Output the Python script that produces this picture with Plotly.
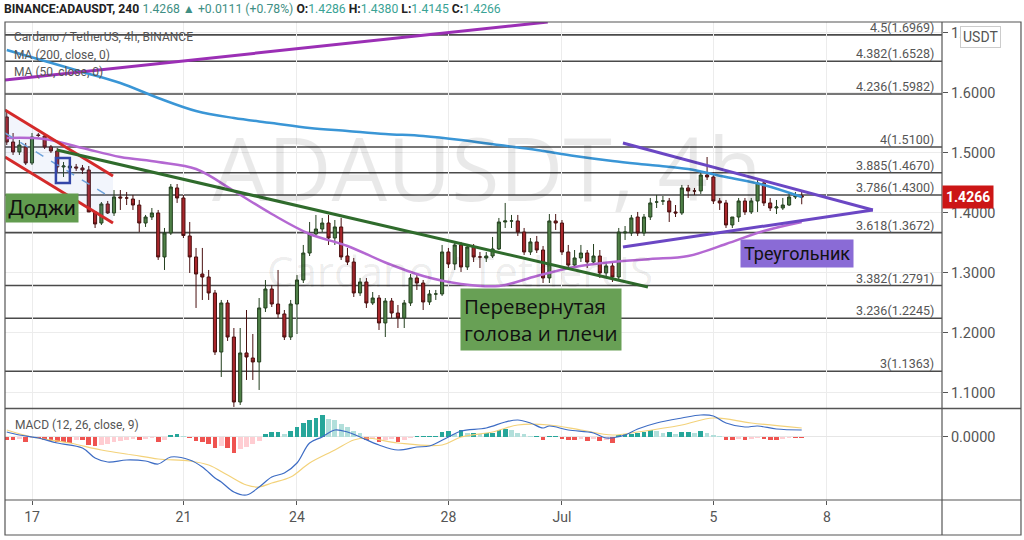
import pandas as pd
import plotly.graph_objects as go

# ---------------- data ----------------
opens = [1.5600,1.5183,1.5017,1.5100,1.4833,1.5300,1.5283,1.5100,1.5033,1.4767,
         1.4750,1.4767,1.4750,1.4717,1.4017,1.3833,1.4150,1.4000,1.4267,1.4250,
         1.4233,1.4133,1.3833,1.3933,1.4000,1.3267,1.3667,1.4417,1.4250,1.3617,
         1.3267,1.2983,1.2933,1.2667,1.1683,1.2500,1.1933,1.0850,1.1667,1.1583,
         1.1517,1.2417,1.2733,1.2483,1.2317,1.1933,1.2483,1.2883,1.3333,1.3650,
         1.3733,1.3833,1.3583,1.3767,1.3283,1.3183,1.2667,1.2850,1.2500,1.2583,
         1.2167,1.2533,1.2333,1.2250,1.2500,1.2917,1.2833,1.2517,1.2650,1.2650,
         1.3350,1.3150,1.3467,1.3100,1.3433,1.3267,1.3250,1.3283,1.3400,1.3850,
         1.3867,1.3867,1.3683,1.3350,1.3517,1.3383,1.2917,1.3867,1.3833,1.3350,
         1.3133,1.3250,1.3333,1.3183,1.3283,1.3000,1.3117,1.2933,1.3667,1.3667,
         1.3933,1.3667,1.3933,1.4183,1.4200,1.4200,1.4017,1.4000,1.4417,1.4367,
         1.4367,1.4633,1.4600,1.4200,1.4167,1.3800,1.3933,1.4200,1.4017,1.4200,
         1.4500,1.4167,1.4083,1.4083,1.4133,1.4267,1.4286]
highs = [1.5683,1.5333,1.5217,1.5167,1.5333,1.5333,1.5317,1.5133,1.5083,1.4850,
         1.4833,1.4817,1.4800,1.4783,1.4033,1.4183,1.4200,1.4383,1.4383,1.4350,
         1.4300,1.4217,1.3967,1.4083,1.4050,1.3750,1.4483,1.4483,1.4300,1.3850,
         1.3417,1.3417,1.3050,1.2717,1.2550,1.2550,1.2083,1.2083,1.2383,1.1983,
         1.2583,1.2883,1.2800,1.3050,1.2383,1.2550,1.2967,1.3467,1.3850,1.3967,
         1.3917,1.3967,1.3883,1.3917,1.3417,1.3250,1.2917,1.2917,1.2683,1.2633,
         1.2583,1.2583,1.2467,1.2550,1.2983,1.2967,1.2883,1.2717,1.2717,1.3467,
         1.3417,1.3517,1.3517,1.3483,1.3483,1.3350,1.3350,1.3600,1.3917,1.4167,
         1.3967,1.3967,1.3750,1.3583,1.3617,1.3450,1.3983,1.3983,1.3883,1.3467,
         1.3383,1.3467,1.3383,1.3483,1.3383,1.3183,1.3183,1.3750,1.3783,1.3967,
         1.4017,1.3983,1.4250,1.4300,1.4283,1.4250,1.4133,1.4467,1.4467,1.4417,
         1.4683,1.4933,1.4683,1.4250,1.4217,1.3933,1.4250,1.4250,1.4250,1.4550,
         1.4550,1.4250,1.4217,1.4250,1.4350,1.4350,1.4380]
lows = [1.5133,1.4967,1.4967,1.4800,1.4800,1.5267,1.5067,1.5000,1.4683,1.4600,
        1.4700,1.4700,1.4650,1.4017,1.3750,1.3800,1.3983,1.3950,1.4050,1.4133,
        1.4050,1.3683,1.3767,1.3883,1.3217,1.3050,1.3633,1.4167,1.3583,1.3000,
        1.2417,1.2550,1.2550,1.1633,1.1267,1.1867,1.0767,1.0800,1.1217,1.1217,
        1.1050,1.2350,1.2433,1.2250,1.1883,1.1883,1.1983,1.2833,1.3283,1.3617,
        1.3683,1.3467,1.3467,1.3217,1.3133,1.2600,1.2617,1.2417,1.2467,1.2050,
        1.1933,1.2250,1.2083,1.2083,1.2450,1.2717,1.2383,1.2467,1.2550,1.2617,
        1.3083,1.3050,1.3017,1.3050,1.3183,1.3083,1.3183,1.3250,1.3383,1.3750,
        1.3750,1.3617,1.3300,1.3300,1.3333,1.2833,1.2833,1.3717,1.3300,1.3083,
        1.3083,1.3183,1.3083,1.3133,1.2917,1.2933,1.2850,1.2883,1.3550,1.3617,
        1.3617,1.3617,1.3883,1.4083,1.4133,1.3850,1.3933,1.3967,1.4250,1.4300,
        1.4317,1.4550,1.4150,1.4050,1.3750,1.3750,1.3850,1.3967,1.3983,1.4017,
        1.4117,1.4033,1.3983,1.4050,1.4117,1.4233,1.4145]
closes = [1.5183,1.5017,1.5133,1.4833,1.5267,1.5292,1.5100,1.5033,1.4767,1.4783,
          1.4783,1.4750,1.4717,1.4017,1.3817,1.4150,1.4000,1.4267,1.4250,1.4250,
          1.4133,1.3833,1.3933,1.4000,1.3267,1.3667,1.4433,1.4250,1.3625,1.3267,
          1.2983,1.2933,1.2667,1.1683,1.2500,1.1933,1.0850,1.1667,1.1600,1.1517,
          1.2417,1.2733,1.2483,1.2317,1.1933,1.2483,1.2883,1.3333,1.3650,1.3733,
          1.3833,1.3583,1.3767,1.3267,1.3183,1.2667,1.2850,1.2500,1.2583,1.2167,
          1.2533,1.2333,1.2250,1.2500,1.2917,1.2833,1.2517,1.2650,1.2650,1.3350,
          1.3150,1.3467,1.3100,1.3433,1.3267,1.3267,1.3283,1.3400,1.3850,1.3867,
          1.3867,1.3683,1.3350,1.3517,1.3383,1.2917,1.3867,1.3833,1.3350,1.3133,
          1.3250,1.3333,1.3183,1.3283,1.3000,1.3117,1.2933,1.3683,1.3683,1.3917,
          1.3667,1.3933,1.4167,1.4183,1.4200,1.4017,1.4000,1.4417,1.4367,1.4367,
          1.4633,1.4600,1.4200,1.4167,1.3800,1.3933,1.4200,1.4017,1.4200,1.4500,
          1.4167,1.4083,1.4100,1.4133,1.4267,1.4283,1.4266]

ma_idx = [0,6,12,18,24,30,36,42,48,54,60,66,72,78,84,90,96,102,108,114,120,126]
ma200 = [1.6717,1.6533,1.6350,1.6167,1.5917,1.5700,1.5583,1.5500,1.5417,1.5367,1.5317,
         1.5283,1.5217,1.5133,1.5050,1.4950,1.4867,1.4800,1.4733,1.4600,1.4467,1.4267]
ma50 = [1.5250,1.5233,1.5083,1.4933,1.4850,1.4733,1.4367,1.3983,1.3650,1.3450,1.3175,
        1.2950,1.2817,1.2783,1.2950,1.3100,1.3183,1.3233,1.3283,1.3483,1.3700,1.3850]

hist = [-0.003,-0.003,-0.002,-0.005,-0.001,-0.001,-0.003,-0.004,-0.005,-0.005,
        -0.006,-0.003,-0.003,-0.008,-0.009,-0.008,-0.007,-0.005,-0.004,-0.003,
        -0.002,-0.003,-0.002,-0.001,-0.005,-0.003,0.002,0.003,0.001,-0.001,
        -0.004,-0.005,-0.007,-0.011,-0.009,-0.011,-0.016,-0.012,-0.010,-0.007,
        -0.004,0.003,0.005,0.005,0.003,0.006,0.010,0.014,0.017,0.019,
        0.022,0.018,0.017,0.013,0.010,0.006,0.004,-0.003,-0.002,-0.005,
        -0.003,-0.002,-0.005,-0.003,-0.001,0.001,0.001,0.001,0.001,0.005,
        0.006,0.003,0.007,0.004,0.004,0.003,0.004,0.004,0.007,0.008,
        0.007,0.004,0.003,0.001,0.001,-0.003,0.001,0.001,-0.002,-0.003,
        -0.003,-0.002,-0.004,-0.002,-0.004,-0.003,-0.006,0.002,0.003,0.003,
        0.004,0.005,0.007,0.006,0.004,0.005,0.003,0.005,0.005,0.004,
        0.006,0.004,0.002,0.001,-0.003,-0.003,-0.002,-0.003,-0.002,-0.001,
        -0.002,-0.003,-0.003,-0.002,-0.001,-0.001,-0.001]
macd_idx = [0,2,5,8,12,14,16,19,22,24,26,29,31,33,34,36,38,40,42,44,46,48,50,52,54,56,
            59,62,65,67,70,72,76,79,81,83,85,86,89,93,95,98,100,103,107,110,112,114,117,119,122,126]
macd_vals = [0.005,0.002,-0.001,-0.006,-0.011,-0.021,-0.025,-0.023,-0.024,-0.027,
             -0.020,-0.023,-0.030,-0.041,-0.045,-0.055,-0.058,-0.050,-0.040,-0.036,
             -0.026,-0.006,0.000,0.007,0.005,0.000,-0.008,-0.013,-0.010,-0.009,
             0.000,0.006,0.009,0.015,0.017,0.014,0.009,0.011,0.007,0.004,
             -0.001,0.002,0.008,0.014,0.019,0.022,0.021,0.014,0.010,0.011,0.008,0.007]
sig_idx = [0,4,10,15,20,24,29,32,35,38,40,42,45,48,52,55,57,62,69,72,77,81,86,91,96,100,107,112,118,126]
sig_vals = [0.007,0.000,-0.006,-0.013,-0.018,-0.022,-0.024,-0.028,-0.038,-0.048,
            -0.050,-0.046,-0.040,-0.026,-0.013,-0.003,-0.001,-0.006,-0.008,0.000,
            0.005,0.012,0.012,0.007,0.002,0.005,0.012,0.019,0.014,0.009]

fib_ratios = ["4.5", "4.382", "4.236", "4", "3.885", "3.786", "3.618", "3.382", "3.236", "3"]
fib_prices = [1.6969, 1.6528, 1.5982, 1.5100, 1.4670, 1.4300, 1.3672, 1.2791, 1.2245, 1.1363]

price_ticks = [1.1, 1.2, 1.3, 1.4, 1.5, 1.6, 1.7]
date_ticks = ["2021-06-17", "2021-06-21", "2021-06-24", "2021-06-28", "2021-07-01", "2021-07-05", "2021-07-08"]
date_labels = ["17", "21", "24", "28", "Jul", "5", "8"]

# drawings (date, price)
purple_top = (["2021-06-16 06:50", "2021-06-30 15:00"], [1.6217, 1.7183])
red_upper = (["2021-06-16 06:50", "2021-06-19 03:20"], [1.5717, 1.4617])
red_lower = (["2021-06-16 06:50", "2021-06-19 03:20"], [1.4933, 1.3833])
mid_dash = (["2021-06-16 06:50", "2021-06-19 01:30"], [1.5333, 1.4267])
doji_box = (["2021-06-17 15:10", "2021-06-18 00:00"], [1.4500, 1.4917])
green_line = (["2021-06-17 15:50", "2021-07-03 06:30"], [1.5050, 1.2767])
tri_upper = (["2021-07-02 14:40", "2021-07-09 05:05"], [1.5167, 1.4050])
tri_lower = (["2021-07-02 14:40", "2021-07-09 05:05"], [1.3433, 1.4050])

last_price = 1.4266

# ---------------- figure ----------------
start = pd.Timestamp("2021-06-16 08:00")
times = [start + pd.Timedelta(hours=4 * i) for i in range(len(opens))]

fig = go.Figure()

# channel fill
fig.add_trace(go.Scatter(
    x=[red_upper[0][0], red_upper[0][1], red_lower[0][1], red_lower[0][0]],
    y=[red_upper[1][0], red_upper[1][1], red_lower[1][1], red_lower[1][0]],
    fill="toself", fillcolor="rgba(90,130,220,0.08)", line=dict(width=0),
    mode="lines", hoverinfo="skip", xaxis="x", yaxis="y"))

fig.add_trace(go.Candlestick(
    x=times, open=opens, high=highs, low=lows, close=closes,
    increasing=dict(line=dict(color="#24401f", width=1), fillcolor="#4f8047"),
    decreasing=dict(line=dict(color="#4a1010", width=1), fillcolor="#a8262b"),
    whiskerwidth=0, hoverinfo="skip", xaxis="x", yaxis="y"))

fig.add_trace(go.Scatter(x=[times[i] for i in ma_idx], y=ma200, mode="lines",
                         line=dict(color="#3a96d6", width=2.5, shape="spline"),
                         hoverinfo="skip", xaxis="x", yaxis="y"))
fig.add_trace(go.Scatter(x=[times[i] for i in ma_idx], y=ma50, mode="lines",
                         line=dict(color="#b468d2", width=2.5, shape="spline"),
                         hoverinfo="skip", xaxis="x", yaxis="y"))

# MACD pane
colors = []
prev = 0.0
for h in hist:
    if h >= 0:
        colors.append("#26a69a" if h >= prev else "#b2dfdb")
    else:
        colors.append("#ef5350" if h <= prev else "#ffcdd2")
    prev = h
fig.add_trace(go.Bar(x=times, y=hist, marker=dict(color=colors, line=dict(width=0)),
                     width=4 * 3600 * 1000 * 0.75, hoverinfo="skip", xaxis="x", yaxis="y2"))
fig.add_trace(go.Scatter(x=[times[i] for i in sig_idx], y=sig_vals, mode="lines",
                         line=dict(color="#f3d27a", width=1.2, shape="spline"),
                         hoverinfo="skip", xaxis="x", yaxis="y2"))
fig.add_trace(go.Scatter(x=[times[i] for i in macd_idx], y=macd_vals, mode="lines",
                         line=dict(color="#3d6cc4", width=1.2, shape="spline"),
                         hoverinfo="skip", xaxis="x", yaxis="y2"))

shapes = []
# fibonacci lines
for p in fib_prices:
    shapes.append(dict(type="line", xref="paper", yref="y", x0=0, x1=1, y0=p, y1=p,
                       line=dict(color="#4a4a4a", width=1.6), layer="below"))

def seg(pts, color, width, dash="solid"):
    return dict(type="line", xref="x", yref="y", x0=pts[0][0], x1=pts[0][1],
                y0=pts[1][0], y1=pts[1][1], line=dict(color=color, width=width, dash=dash))

shapes.append(seg(purple_top, "#9b2fb5", 3))
shapes.append(seg(red_upper, "#d42a2a", 3))
shapes.append(seg(red_lower, "#d42a2a", 3))
shapes.append(seg(mid_dash, "#6fa3dc", 1.5, "dash"))
shapes.append(seg(green_line, "#2f6b2c", 3))
shapes.append(seg(tri_upper, "#6b47c4", 3))
shapes.append(seg(tri_lower, "#6b47c4", 3))
shapes.append(dict(type="rect", xref="x", yref="y", x0=doji_box[0][0], x1=doji_box[0][1],
                   y0=doji_box[1][0], y1=doji_box[1][1], line=dict(color="#3346a8", width=2.5)))

# frame & pane separators (paper coords)
fr = "#555555"
shapes += [
    dict(type="rect", xref="paper", yref="paper", x0=0, x1=1.0843, y0=-0.0732, y1=1,
         line=dict(color=fr, width=1.2)),
    dict(type="line", xref="paper", yref="paper", x0=0, x1=1.0843, y0=0.1915, y1=0.1915,
         line=dict(color=fr, width=1.5)),
    dict(type="line", xref="paper", yref="paper", x0=0, x1=1.0843, y0=0, y1=0,
         line=dict(color=fr, width=1.2)),
    dict(type="line", xref="paper", yref="paper", x0=1, x1=1, y0=-0.0732, y1=1,
         line=dict(color=fr, width=1.2)),
]

ann = []
for r, p in zip(fib_ratios, fib_prices):
    ann.append(dict(xref="paper", yref="y", x=0.9935, y=p, xanchor="right", yanchor="bottom",
                    text=f"{r}({p:.4f})", showarrow=False, yshift=-2,
                    font=dict(size=12.5, color="#555", family="Roboto")))

# watermark
ann.append(dict(xref="paper", yref="paper", x=0.514, y=0.697, xanchor="center", yanchor="middle",
                text="ADAUSDT, 4h", showarrow=False,
                font=dict(size=88, color="rgba(0,0,0,0.085)", family="Open Sans")))
ann.append(dict(xref="paper", yref="paper", x=0.486, y=0.481, xanchor="center", yanchor="middle",
                text="Cardano / TetherUS", showarrow=False,
                font=dict(size=42, color="rgba(0,0,0,0.085)", family="Open Sans")))

# header & legend texts
teal = "#3aa395"
hdr = ("<b>BINANCE:ADAUSDT, 240</b> <span style='color:#3f8f84'>1.4268 ▲ +0.0111 (+0.78%)</span> "
       f"<b>O:</b><span style='color:{teal}'>1.4286</span> <b>H:</b><span style='color:{teal}'>1.4380</span> "
       f"<b>L:</b><span style='color:{teal}'>1.4145</span> <b>C:</b><span style='color:{teal}'>1.4266</span>")
ann.append(dict(xref="paper", yref="paper", x=-0.003, y=1.027, xanchor="left", yanchor="middle",
                text=hdr, showarrow=False, font=dict(size=12.2, color="#222", family="Roboto")))
for t, yy in [("Cardano / TetherUS, 4h, BINANCE", 0.9686), ("MA (200, close, 0)", 0.931),
              ("MA (50, close, 0)", 0.8954)]:
    ann.append(dict(xref="paper", yref="paper", x=0.0075, y=yy, xanchor="left", yanchor="middle",
                    text=t, showarrow=False, font=dict(size=12, color="#555", family="Roboto")))
ann.append(dict(xref="paper", yref="paper", x=0.0085, y=0.157, xanchor="left", yanchor="middle",
                text="MACD (12, 26, close, 9)", showarrow=False, font=dict(size=12, color="#555", family="Roboto")))

# pattern labels
ann.append(dict(xref="x", yref="y", x="2021-06-17 06:20", y=1.4083, text="Доджи", showarrow=False,
                bgcolor="#629c4f", borderpad=2, font=dict(size=21, color="#111", family="Roboto")))
ann.append(dict(xref="x", yref="y", x="2021-06-30 11:00", y=1.2233,
                text="Перевернутая<br>голова и плечи", showarrow=False, align="left",
                bgcolor="#68a055", borderpad=3, font=dict(size=20.5, color="#111", family="Open Sans")))
ann.append(dict(xref="x", yref="y", x="2021-07-07 05:00", y=1.3333, text="Треугольник", showarrow=False,
                bgcolor="#8a6bd6", borderpad=3, font=dict(size=18, color="#111", family="Roboto")))

# price label & currency box
ann.append(dict(xref="paper", yref="y", x=1.0, y=last_price, xanchor="left", yanchor="middle",
                text="<b>1.4266</b>", showarrow=False, bgcolor="#cc1616", borderpad=3,
                font=dict(size=14, color="white", family="Roboto")))
ann.append(dict(xref="paper", yref="paper", x=1.0406, y=0.9686, xanchor="center", yanchor="middle",
                text="USDT", showarrow=False,
                bgcolor="white", bordercolor="#cccccc", borderwidth=1, borderpad=2,
                font=dict(size=14, color="#555", family="Roboto")))

fig.update_layout(
    width=1024, height=540, margin=dict(l=5, r=82, t=22, b=40),
    paper_bgcolor="white", plot_bgcolor="white", showlegend=False,
    font=dict(family="Roboto", color="#555"),
    bargap=0, shapes=shapes, annotations=ann,
    xaxis=dict(type="date", domain=[0, 1], anchor="y2",
               range=["2021-06-16 06:53", "2021-07-11 00:56"],
               rangeslider=dict(visible=False), showgrid=True, gridcolor="#ececec",
               tickvals=date_ticks, ticktext=date_labels, ticks="outside", ticklen=4,
               tickcolor="#555", tickfont=dict(size=14, color="#555"), showline=False, zeroline=False),
    yaxis=dict(domain=[0.1925, 1], range=[1.075, 1.7183], side="right", anchor="x",
               tickvals=price_ticks, ticktext=[f"{v:.4f}" for v in price_ticks],
               ticks="outside", ticklen=5, tickcolor="#555", showgrid=True, gridcolor="#ececec",
               tickfont=dict(size=14.5, color="#555"), zeroline=False, showline=False),
    yaxis2=dict(domain=[0, 0.1904], range=[-0.063, 0.028], side="right", anchor="x",
                tickvals=[0], ticktext=["0.0000"], ticks="outside", ticklen=5, tickcolor="#555",
                showgrid=True, gridcolor="#e6e6e6", tickfont=dict(size=14.5, color="#555"),
                zeroline=False, showline=False),
)

fig.write_html("out.html", config={"displayModeBar": False},
               post_script="document.body.style.margin='0px';")
